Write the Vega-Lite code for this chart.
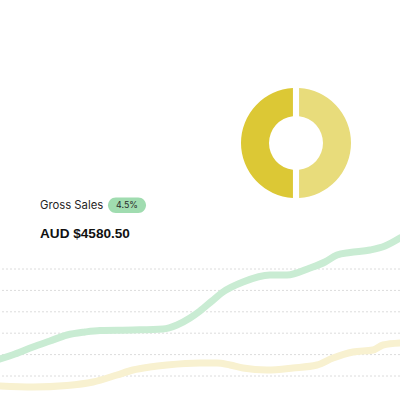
{
  "$schema": "https://vega.github.io/schema/vega-lite/v6.json",
  "width": 400,
  "height": 400,
  "autosize": {"type": "none"},
  "padding": 0,
  "background": "#ffffff",
  "config": {"view": {"stroke": null}},
  "layer": [
    {
      "data": {"values": [{"level": 131}, {"level": 109.6}, {"level": 88.2}, {"level": 66.8}, {"level": 45.4}, {"level": 24}]},
      "mark": {"type": "rule", "color": "#dcdcdc", "strokeDash": [2, 2], "strokeWidth": 1},
      "encoding": {
        "y": {"field": "level", "type": "quantitative", "scale": {"domain": [0, 400], "nice": false, "zero": false}, "axis": null}
      }
    },
    {
      "data": {"values": [
        {"t": 0, "sales": 14, "series": "prior"},
        {"t": 33, "sales": 13, "series": "prior"},
        {"t": 67, "sales": 14.5, "series": "prior"},
        {"t": 93, "sales": 18, "series": "prior"},
        {"t": 117, "sales": 25, "series": "prior"},
        {"t": 133, "sales": 30, "series": "prior"},
        {"t": 150, "sales": 33, "series": "prior"},
        {"t": 167, "sales": 35, "series": "prior"},
        {"t": 200, "sales": 37, "series": "prior"},
        {"t": 217, "sales": 37, "series": "prior"},
        {"t": 230, "sales": 35, "series": "prior"},
        {"t": 243, "sales": 32, "series": "prior"},
        {"t": 267, "sales": 30, "series": "prior"},
        {"t": 293, "sales": 32, "series": "prior"},
        {"t": 317, "sales": 35, "series": "prior"},
        {"t": 333, "sales": 42, "series": "prior"},
        {"t": 353, "sales": 48, "series": "prior"},
        {"t": 373, "sales": 50, "series": "prior"},
        {"t": 383, "sales": 55, "series": "prior"},
        {"t": 400, "sales": 57, "series": "prior"},
        {"t": 0, "sales": 41, "series": "current"},
        {"t": 15, "sales": 46, "series": "current"},
        {"t": 33, "sales": 53, "series": "current"},
        {"t": 50, "sales": 59, "series": "current"},
        {"t": 67, "sales": 65, "series": "current"},
        {"t": 85, "sales": 68, "series": "current"},
        {"t": 100, "sales": 69.5, "series": "current"},
        {"t": 133, "sales": 70, "series": "current"},
        {"t": 163, "sales": 71, "series": "current"},
        {"t": 177, "sales": 75, "series": "current"},
        {"t": 190, "sales": 82, "series": "current"},
        {"t": 200, "sales": 89, "series": "current"},
        {"t": 212, "sales": 99, "series": "current"},
        {"t": 223, "sales": 108, "series": "current"},
        {"t": 243, "sales": 118, "series": "current"},
        {"t": 270, "sales": 125, "series": "current"},
        {"t": 287, "sales": 125, "series": "current"},
        {"t": 310, "sales": 132, "series": "current"},
        {"t": 325, "sales": 138, "series": "current"},
        {"t": 337, "sales": 145, "series": "current"},
        {"t": 350, "sales": 147.5, "series": "current"},
        {"t": 370, "sales": 150, "series": "current"},
        {"t": 385, "sales": 154, "series": "current"},
        {"t": 400, "sales": 162, "series": "current"}
      ]},
      "mark": {"type": "line", "interpolate": "monotone", "strokeWidth": 7, "strokeCap": "round"},
      "encoding": {
        "x": {"field": "t", "type": "quantitative", "scale": {"domain": [0, 400], "nice": false, "zero": false}, "axis": null},
        "y": {"field": "sales", "type": "quantitative", "axis": null},
        "color": {"field": "series", "type": "nominal", "scale": {"domain": ["current", "prior"], "range": ["#c9ecd3", "#f8f1d0"]}, "legend": null},
        "order": {"field": "t", "type": "quantitative"}
      }
    },
    {
      "data": {"values": [{"segment": "Segment 1", "share": 50}, {"segment": "Segment 2", "share": 50}]},
      "mark": {"type": "arc", "outerRadius": 55, "innerRadius": 27, "padAngle": 0.1},
      "encoding": {
        "x": {"datum": 296, "type": "quantitative"},
        "y": {"datum": 257, "type": "quantitative"},
        "theta": {"field": "share", "type": "quantitative", "stack": true},
        "fill": {"field": "segment", "type": "nominal", "scale": {"domain": ["Segment 1", "Segment 2"], "range": ["#e8dc7b", "#dcc835"]}, "legend": null}
      }
    },
    {
      "data": {"values": [{"x0": 108, "x1": 146, "y0": 187, "y1": 202.5}]},
      "mark": {"type": "rect", "cornerRadius": 7.75, "color": "#a0dcb0"},
      "encoding": {
        "x": {"field": "x0", "type": "quantitative"},
        "x2": {"field": "x1"},
        "y": {"field": "y0", "type": "quantitative"},
        "y2": {"field": "y1"}
      }
    },
    {
      "data": {"values": [
        {"label": "Gross Sales", "px": 40, "py": 191}
      ]},
      "mark": {"type": "text", "align": "left", "baseline": "alphabetic", "font": "Inter", "fontSize": 11.3, "color": "#1f1f1f"},
      "encoding": {
        "x": {"field": "px", "type": "quantitative"},
        "y": {"field": "py", "type": "quantitative"},
        "text": {"field": "label"}
      }
    },
    {
      "data": {"values": [{"label": "4.5%", "px": 127, "py": 194.8}]},
      "mark": {"type": "text", "align": "center", "baseline": "middle", "font": "Inter", "fontSize": 8.8, "color": "#2a2a2a"},
      "encoding": {
        "x": {"field": "px", "type": "quantitative"},
        "y": {"field": "py", "type": "quantitative"},
        "text": {"field": "label"}
      }
    },
    {
      "data": {"values": [{"label": "AUD $4580.50", "px": 40, "py": 162}]},
      "mark": {"type": "text", "align": "left", "baseline": "alphabetic", "font": "Liberation Sans", "fontSize": 13.6, "fontWeight": "bold", "color": "#111111"},
      "encoding": {
        "x": {"field": "px", "type": "quantitative"},
        "y": {"field": "py", "type": "quantitative"},
        "text": {"field": "label"}
      }
    }
  ]
}
